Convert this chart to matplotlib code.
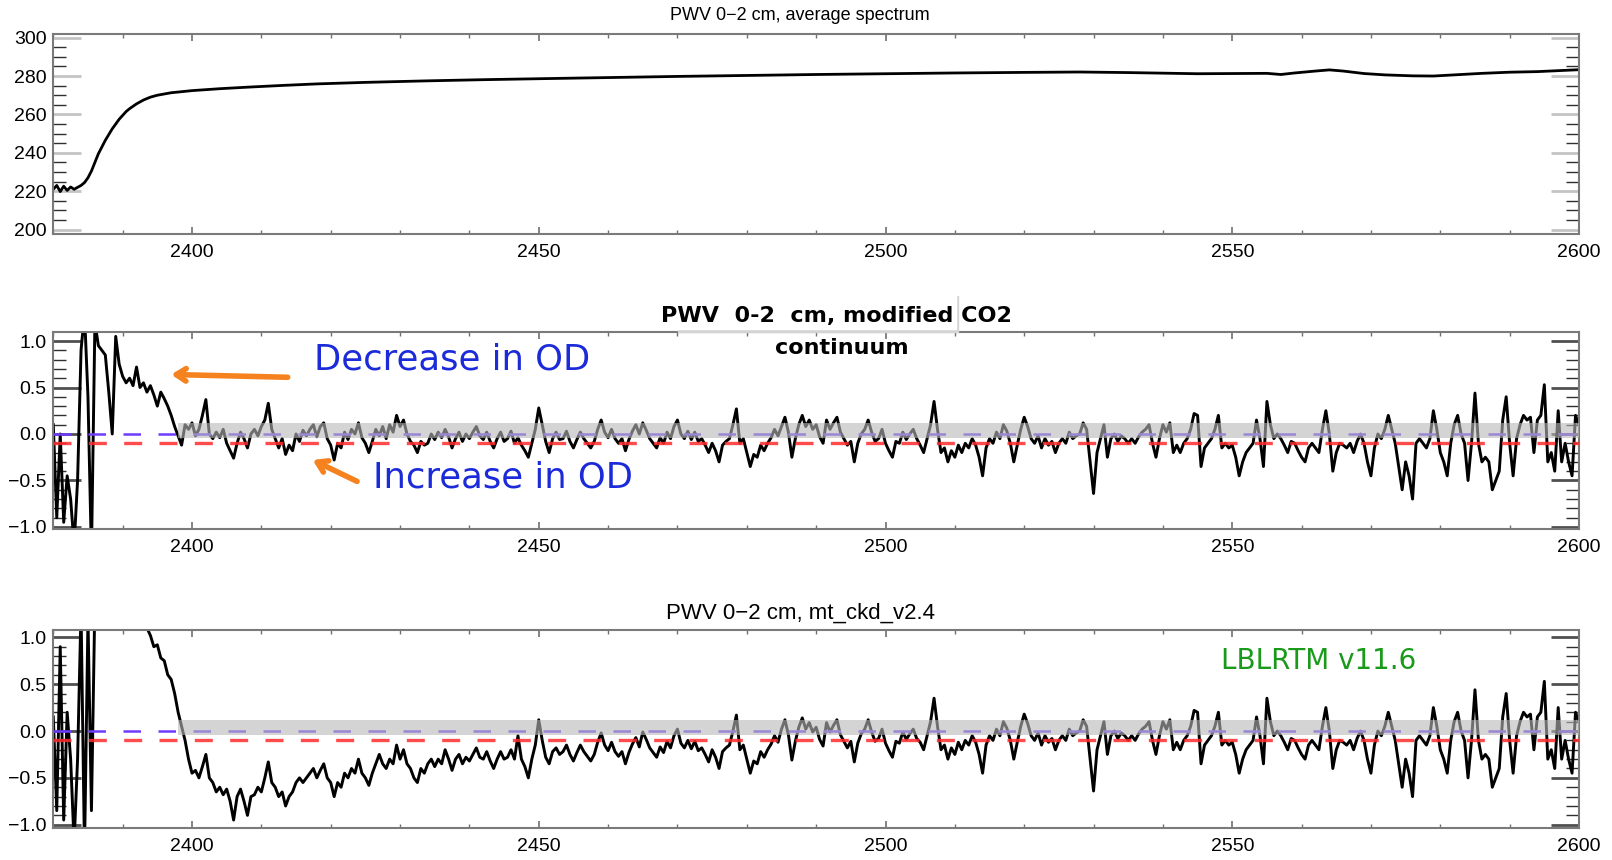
import numpy as np
import matplotlib.pyplot as plt
from matplotlib.patches import Rectangle
from matplotlib.ticker import MultipleLocator, FuncFormatter

plt.rcParams['font.family'] = ['Liberation Sans', 'DejaVu Sans']

# average brightness-temperature spectrum (top panel)
spec_wn = [2380.0, 2380.5, 2381.0, 2381.5, 2382.0, 2382.5, 2383.0, 2383.5, 2384.0, 2384.5,
           2385.0, 2385.5, 2386.0, 2386.5, 2387.0, 2387.5, 2388.0, 2388.5, 2389.0, 2389.5,
           2390.0, 2390.5, 2391.0, 2392.0, 2393.0, 2394.0, 2395.0, 2397.0, 2400.0, 2404.0,
           2408.0, 2413.0, 2418.0, 2425.0, 2434.0, 2442.0, 2450.0, 2460.0, 2470.0, 2480.0,
           2490.0, 2500.0, 2510.0, 2520.0, 2528.0, 2535.0, 2540.0, 2545.0, 2550.0, 2555.0,
           2557.0, 2559.0, 2562.0, 2564.0, 2566.0, 2569.0, 2572.0, 2576.0, 2579.0, 2582.0,
           2586.0, 2590.0, 2594.0, 2597.0, 2600.0]
spec_bt = [221.0, 223.0, 219.8, 222.6, 220.4, 222.2, 221.0, 222.0, 223.0, 224.5,
           227.0, 230.5, 235.0, 239.5, 243.0, 246.5, 249.5, 252.5, 255.0, 257.5,
           259.5, 261.5, 263.0, 265.5, 267.5, 269.0, 270.0, 271.3, 272.4, 273.4,
           274.2, 275.1, 275.9, 276.7, 277.5, 278.1, 278.6, 279.2, 279.8, 280.3,
           280.8, 281.2, 281.6, 281.9, 282.1, 281.8, 281.5, 281.2, 281.3, 281.4,
           280.8, 281.6, 282.6, 283.2, 282.6, 281.3, 280.6, 280.1, 280.0, 280.6,
           281.4, 282.0, 282.3, 282.8, 283.3]

# residual spectra, sampled every 0.5 cm-1 from 2380 cm-1
resid_start = 2380.0
resid_step = 0.5

# modified CO2 continuum (middle panel)
resid_mod = [
    0.1, -0.9, 0.0, -0.95, -0.45, -0.7, -1.2, -0.5, 0.9, 1.3,
    0.4, -1.3, 1.2, 0.95, 0.9, 0.85, 0.45, 0.0, 1.05, 0.75,
    0.62, 0.55, 0.6, 0.52, 0.72, 0.5, 0.55, 0.45, 0.52, 0.42,
    0.3, 0.45, 0.38, 0.3, 0.2, 0.08, -0.02, -0.12, 0.1, 0.05,
    0.12, -0.02, 0.05, 0.2, 0.37, 0.0, -0.05, 0.02, -0.04, 0.05,
    -0.1, -0.18, -0.26, -0.1, 0.02, -0.05, -0.15, 0.0, 0.05, -0.02,
    0.08, 0.15, 0.33, 0.05, -0.05, -0.15, -0.05, -0.22, -0.12, -0.18,
    0.0, -0.08, 0.04, -0.02, 0.05, 0.1, -0.03, 0.08, 0.12, -0.05,
    -0.12, -0.28, -0.1, -0.15, 0.02, -0.06, 0.05, 0.0, 0.12, -0.04,
    -0.1, -0.2, -0.08, 0.05, -0.02, 0.08, -0.05, 0.1, 0.02, 0.2,
    0.08, 0.15, 0.0, -0.08, -0.12, -0.2, -0.08, -0.12, -0.1, 0.0,
    -0.06, 0.02, -0.04, 0.05, -0.03, -0.15, -0.05, 0.02, -0.08, 0.0,
    -0.05, 0.02, 0.08, -0.02, -0.06, 0.02, -0.08, -0.15, -0.05, 0.02,
    -0.08, -0.05, 0.03, -0.1, -0.04, -0.12, -0.18, -0.25, -0.1, 0.05,
    0.28, 0.1, -0.08, -0.2, -0.05, 0.02, -0.06, -0.05, 0.03, -0.08,
    -0.15, -0.06, 0.02, -0.05, -0.1, -0.15, -0.08, 0.05, 0.15, 0.02,
    -0.04, 0.05, -0.05, -0.1, -0.05, -0.18, -0.06, 0.03, 0.1, 0.0,
    0.12, 0.04, -0.05, -0.1, -0.15, -0.04, -0.1, 0.02, -0.05, 0.08,
    0.15, 0.0, -0.05, 0.03, -0.06, 0.02, -0.08, -0.05, -0.12, -0.2,
    -0.1, -0.18, -0.3, -0.12, -0.08, -0.05, 0.1, 0.27, -0.1, -0.05,
    -0.2, -0.35, -0.22, -0.25, -0.12, -0.18, -0.1, -0.04, 0.05, -0.02,
    0.08, 0.18, 0.02, -0.25, -0.05, 0.1, 0.2, 0.08, 0.15, 0.05,
    0.1, -0.03, -0.1, 0.15, 0.05, 0.12, 0.18, 0.02, -0.05, -0.12,
    -0.08, -0.3, -0.1, 0.0, 0.05, 0.15, 0.02, -0.08, -0.05, 0.05,
    -0.1, -0.18, -0.25, -0.08, -0.1, 0.02, -0.06, 0.0, 0.05, -0.05,
    -0.12, -0.2, -0.05, 0.1, 0.35, 0.05, -0.2, -0.15, -0.3, -0.18,
    -0.25, -0.12, -0.2, -0.1, -0.15, -0.05, -0.12, -0.25, -0.45, -0.15,
    -0.05, -0.1, 0.02, -0.05, 0.1, 0.03, -0.1, -0.3, -0.12, 0.05,
    0.18, 0.08, -0.05, -0.1, -0.02, -0.15, -0.05, -0.12, -0.08, -0.2,
    -0.1, -0.05, -0.1, 0.02, -0.05, -0.02, 0.0, 0.12, 0.05, -0.3,
    -0.64, -0.2, -0.05, 0.1, -0.25, -0.05, 0.0, -0.08, -0.02, -0.05,
    -0.1, -0.05, -0.1, -0.03, 0.02, 0.05, 0.1, -0.1, -0.25, -0.05,
    0.1, 0.02, 0.12, -0.2, -0.12, -0.2, -0.1, -0.05, 0.05, 0.22,
    0.2, -0.35, -0.15, -0.1, -0.05, 0.05, 0.2, -0.15, -0.1, -0.15,
    -0.12, -0.25, -0.45, -0.3, -0.2, -0.15, -0.1, 0.15, -0.05, -0.35,
    0.35, 0.1, -0.05, 0.0, -0.05, -0.12, -0.2, -0.08, -0.1, -0.18,
    -0.25, -0.3, -0.15, -0.1, -0.15, -0.2, 0.05, 0.25, 0.0, -0.4,
    -0.2, -0.1, -0.12, -0.15, -0.1, -0.2, -0.08, 0.0, -0.1, -0.3,
    -0.45, -0.15, 0.0, -0.05, 0.05, 0.2, 0.05, -0.1, -0.35, -0.6,
    -0.3, -0.45, -0.7, -0.1, -0.05, -0.1, -0.15, -0.05, 0.25, 0.05,
    -0.2, -0.3, -0.45, -0.1, 0.1, 0.2, 0.0, -0.1, -0.5, -0.1,
    0.44, -0.1, -0.3, -0.25, -0.3, -0.6, -0.5, -0.4, 0.15, 0.4,
    -0.1, -0.45, -0.05, 0.1, 0.2, 0.15, 0.18, -0.2, 0.15, 0.2,
    0.53, -0.3, -0.2, -0.4, 0.25, -0.3, -0.1, -0.3, -0.45, 0.2,
    0.1,
]

# mt_ckd_v2.4 (bottom panel), 2380-2504.5 cm-1; above that it follows resid_mod
resid_ckd_head = [
    0.15, -0.85, 0.9, -0.95, 0.2, -0.3, -1.2, -0.3, 1.3, -1.3,
    1.2, -0.85, 1.4, 1.5, 1.6, 1.7, 1.8, 1.8, 1.8, 1.7,
    1.7, 1.6, 1.5, 1.5, 1.4, 1.3, 1.2, 1.1, 1.02, 0.9,
    0.92, 0.78, 0.75, 0.6, 0.55, 0.4, 0.2, 0.05, -0.1, -0.3,
    -0.45, -0.42, -0.5, -0.38, -0.25, -0.5, -0.55, -0.65, -0.6, -0.68,
    -0.62, -0.75, -0.95, -0.7, -0.62, -0.75, -0.9, -0.7, -0.68, -0.6,
    -0.65, -0.5, -0.33, -0.55, -0.6, -0.7, -0.65, -0.8, -0.7, -0.65,
    -0.55, -0.5, -0.55, -0.5, -0.45, -0.4, -0.5, -0.42, -0.35, -0.5,
    -0.55, -0.7, -0.55, -0.6, -0.45, -0.5, -0.4, -0.45, -0.3, -0.45,
    -0.5, -0.58, -0.45, -0.35, -0.25, -0.35, -0.4, -0.3, -0.35, -0.15,
    -0.3, -0.2, -0.35, -0.4, -0.5, -0.55, -0.4, -0.45, -0.35, -0.3,
    -0.38, -0.3, -0.35, -0.2, -0.3, -0.42, -0.3, -0.25, -0.35, -0.28,
    -0.32, -0.25, -0.18, -0.28, -0.3, -0.22, -0.32, -0.4, -0.3, -0.22,
    -0.3, -0.28, -0.2, -0.3, -0.05, -0.3, -0.38, -0.5, -0.3, -0.15,
    0.12, -0.1, -0.28, -0.35, -0.22, -0.18, -0.25, -0.22, -0.15, -0.25,
    -0.32, -0.23, -0.15, -0.22, -0.27, -0.32, -0.25, -0.12, -0.02, -0.15,
    -0.21, -0.12, -0.22, -0.27, -0.22, -0.35, -0.23, -0.14, -0.07, -0.17,
    -0.01, -0.09, -0.18, -0.23, -0.28, -0.17, -0.23, -0.11, -0.18, -0.05,
    0.02, -0.13, -0.18, -0.1, -0.19, -0.11, -0.21, -0.18, -0.25, -0.33,
    -0.2, -0.28, -0.4, -0.22, -0.18, -0.15, 0.0, 0.17, -0.2, -0.15,
    -0.3, -0.45, -0.32, -0.35, -0.22, -0.28, -0.2, -0.14, -0.05, -0.12,
    0.02, 0.12, -0.04, -0.31, -0.11, 0.04, 0.14, 0.02, 0.09, -0.01,
    0.04, -0.09, -0.16, 0.09, -0.01, 0.06, 0.12, -0.04, -0.11, -0.18,
    -0.11, -0.33, -0.13, -0.03, 0.02, 0.12, -0.01, -0.11, -0.08, 0.02,
    -0.13, -0.21, -0.28, -0.11, -0.13, -0.01, -0.09, -0.03, 0.02, -0.08,
]
resid_ckd = resid_ckd_head + resid_mod[len(resid_ckd_head):]

W, H = 1612, 860
fig = plt.figure(figsize=(W / 100, H / 100), dpi=100)


def box(top, bottom):
    return [53.3 / W, 1 - bottom / H, (1579 - 53.3) / W, (bottom - top) / H]


def minus(v, pos, fmt):
    return (fmt % v).replace('-', '\u2212')


def style(ax, ymaj, ymin, fmt, major_color):
    ax.set_xlim(2380, 2600)
    ax.xaxis.set_major_locator(MultipleLocator(50))
    ax.xaxis.set_minor_locator(MultipleLocator(10))
    ax.yaxis.set_major_locator(MultipleLocator(ymaj))
    ax.yaxis.set_minor_locator(MultipleLocator(ymin))
    ax.yaxis.set_major_formatter(FuncFormatter(lambda v, p: minus(v, p, fmt)))
    ax.xaxis.set_major_formatter(FuncFormatter(lambda v, p: '' if v < 2390 else '%d' % v))
    ax.tick_params(axis='x', which='both', direction='in', top=True, bottom=True,
                   color='#707070', labelsize=14, pad=7)
    ax.tick_params(axis='x', which='major', length=5, width=1.2)
    ax.tick_params(axis='x', which='minor', length=3, width=1.0)
    ax.tick_params(axis='y', which='both', direction='in', left=True, right=True,
                   labelsize=14, pad=5)
    ax.tick_params(axis='y', which='major', length=20, width=2.0, color=major_color)
    ax.tick_params(axis='y', which='minor', length=9.4, width=1.0, color='#303030')
    for s in ax.spines.values():
        s.set_color('#7a7a7a')
        s.set_linewidth(1.5)


# top panel
ax1 = fig.add_axes(box(34, 234))
ax1.plot(spec_wn, spec_bt, color='black', lw=2.0)
ax1.set_ylim(197.7, 301.9)
style(ax1, 20, 5, '%d', '#c4c4c4')


def resid_panel(ax, vals):
    wn = resid_start + resid_step * np.arange(len(vals))
    ax.plot(wn, vals, color='black', lw=2.1, zorder=2)
    ax.axhline(0.0, color='#6f3cff', lw=1.8, dashes=(7, 7), zorder=3)
    ax.axhline(-0.1, color='#ff2b2b', lw=2.4, dashes=(5.4, 5.2), alpha=0.85, zorder=3)
    ax.fill_between([2398, 2600], -0.045, 0.115, color='#b8b8b8', alpha=0.6,
                    lw=0, zorder=4)


ax2 = fig.add_axes(box(332, 529))
resid_panel(ax2, resid_mod)
ax2.set_ylim(-1.022, 1.097)
style(ax2, 0.5, 0.1, '%.1f', '#505050')

ax3 = fig.add_axes(box(630, 828))
resid_panel(ax3, resid_ckd)
ax3.set_ylim(-1.035, 1.078)
style(ax3, 0.5, 0.1, '%.1f', '#505050')

# titles
fig.text(800 / W, 1 - 15 / H, 'PWV 0\u22122 cm, average spectrum', ha='center',
         va='center', fontsize=13)
fig.text(800 / W, 1 - 613 / H, 'PWV 0\u22122 cm, mt_ckd_v2.4', ha='center',
         va='center', fontsize=16)

# pasted text box behind the middle title
fig.patches.append(Rectangle((678 / W, 1 - 332 / H), 280 / W, 36 / H,
                             transform=fig.transFigure, color='#d4d4d4', zorder=1))
fig.patches.append(Rectangle((676 / W, 1 - 329 / H), 280 / W, 36 / H,
                             transform=fig.transFigure, color='white', zorder=2))
fig.text(836 / W, 1 - 316 / H, 'PWV  0-2  cm, modified CO2', ha='center', va='center',
         fontsize=16, fontweight='bold', family='DejaVu Sans', zorder=3)
ax2.text(2493.7, 0.925, 'continuum', ha='center', va='center', fontsize=16,
         fontweight='bold', family='DejaVu Sans')

# annotations
blue = '#1c2bd9'
orange = '#f5821f'
ax2.text(2417.6, 0.8, 'Decrease in OD', color=blue, fontsize=25.5, ha='left',
         va='center', family='DejaVu Sans', zorder=6)
ax2.text(2426.1, -0.47, 'Increase in OD', color=blue, fontsize=25.5, ha='left',
         va='center', family='DejaVu Sans', zorder=6)
for tip, tail in [((2397.0, 0.64), (2413.8, 0.61)), ((2417.4, -0.28), (2423.8, -0.51))]:
    ax2.annotate('', xy=tip, xytext=tail, zorder=6,
                 arrowprops=dict(arrowstyle='->,head_length=0.7,head_width=0.45',
                                 lw=4, color=orange, shrinkA=0, shrinkB=0))
ax3.text(2562.5, 0.75, 'LBLRTM v11.6', color='#1a9a1a', fontsize=20, ha='center',
         va='center', family='DejaVu Sans')

fig.savefig('out.png', dpi=100)
